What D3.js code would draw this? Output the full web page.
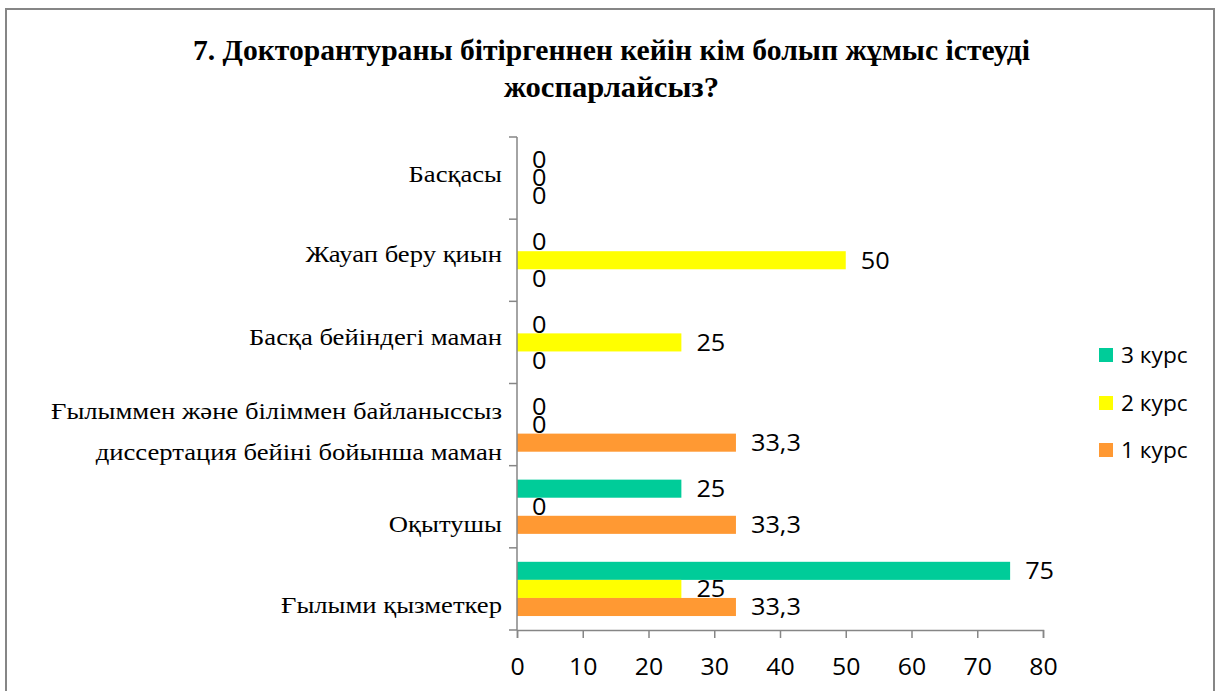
<!DOCTYPE html>
<html>
<head>
<meta charset="utf-8">
<script src="https://cdn.jsdelivr.net/npm/d3@7"></script>
<style>
  html, body { margin: 0; padding: 0; background: #ffffff; }
  svg { display: block; }
  .serif { font-family: "Liberation Serif", "Times New Roman", "DejaVu Serif", serif; }
  .sans { font-family: "Open Sans", "Noto Sans", sans-serif; }
</style>
</head>
<body>
<svg id="chart" width="1217" height="691"></svg>
<script>
// Survey question and answer options (top to bottom as drawn)
const titleLines = [
  "7. Докторантураны бітіргеннен кейін кім болып жұмыс істеуді",
  "жоспарлайсыз?"
];
const categories = [
  "Басқасы",
  "Жауап беру қиын",
  "Басқа бейіндегі маман",
  "Ғылыммен және біліммен байланыссыз диссертация бейіні бойынша маман",
  "Оқытушы",
  "Ғылыми қызметкер"
];
// Wrapped lines for category labels
const categoryLines = [
  ["Басқасы"],
  ["Жауап беру қиын"],
  ["Басқа бейіндегі маман"],
  ["Ғылыммен және біліммен байланыссыз", "диссертация бейіні бойынша маман"],
  ["Оқытушы"],
  ["Ғылыми қызметкер"]
];
// Series (percent), one value per category in the order above
const seriesNames = ["3 курс", "2 курс", "1 курс"];
const course3 = [0, 0, 0, 0, 25, 75];
const course2 = [0, 50, 25, 0, 0, 25];
const course1 = [0, 0, 0, 33.3, 33.3, 33.3];
const seriesColors = ["#00cc99", "#ffff00", "#ff9933"];
const xTicks = [0, 10, 20, 30, 40, 50, 60, 70, 80];

const seriesValues = [course3, course2, course1];

const svg = d3.select("#chart");
const axisColor = "#868686";

// Widen text horizontally by factor k around its anchor
function stretch(sel, k) {
  sel.each(function () {
    const w = this.getComputedTextLength();
    d3.select(this).attr("textLength", w * k).attr("lengthAdjust", "spacingAndGlyphs");
  });
}

// Outer frame
svg.append("rect")
  .attr("x", 6).attr("y", 9)
  .attr("width", 1208).attr("height", 700)
  .attr("fill", "none")
  .attr("stroke", axisColor)
  .attr("stroke-width", 2);

// Title
const titleY = [60, 97];
const titleW = [837, 215];
svg.selectAll("text.title")
  .data(titleLines)
  .join("text")
  .attr("class", "title serif")
  .attr("x", 611.5)
  .attr("y", (d, i) => titleY[i])
  .attr("text-anchor", "middle")
  .attr("font-weight", "bold")
  .attr("font-size", 30)
  .attr("textLength", (d, i) => titleW[i])
  .attr("lengthAdjust", "spacingAndGlyphs")
  .attr("fill", "#000")
  .text(d => d);

// Scales
const x = d3.scaleLinear().domain([0, 80]).range([517, 1043]);
const y = d3.scaleBand().domain(categories).range([137, 630]).paddingInner(0).paddingOuter(0);
const groupPad = y.bandwidth() * 0.17;
const ySub = d3.scaleBand().domain(seriesNames).range([groupPad, y.bandwidth() - groupPad]);

// Bars
const barData = [];
categories.forEach((c, ci) => {
  seriesNames.forEach((s, si) => {
    barData.push({ cat: c, series: s, value: seriesValues[si][ci], color: seriesColors[si] });
  });
});

const plot = svg.append("g");
plot.selectAll("rect.bar")
  .data(barData.filter(d => d.value > 0))
  .join("rect")
  .attr("class", "bar")
  .attr("x", x(0))
  .attr("y", d => y(d.cat) + ySub(d.series))
  .attr("width", d => x(d.value) - x(0))
  .attr("height", ySub.bandwidth())
  .attr("fill", d => d.color);

// Value labels
const fmt = v => String(v).replace(".", ",");
const valLabels = plot.selectAll("text.val")
  .data(barData)
  .join("text")
  .attr("class", "val sans")
  .attr("x", d => x(d.value) + 15)
  .attr("y", d => y(d.cat) + ySub(d.series) + ySub.bandwidth() / 2)
  .attr("dy", "0.36em")
  .attr("font-size", 23)
  .attr("fill", "#000")
  .text(d => fmt(d.value));
stretch(valLabels, 1.1);

// X axis
const xAxis = d3.axisBottom(x).tickValues(xTicks).tickSize(8).tickPadding(21).tickFormat(d3.format("d"));
const gx = svg.append("g").attr("transform", "translate(0,630)").call(xAxis);
gx.attr("font-family", null).attr("font-size", null);
gx.select(".domain").attr("stroke", axisColor).attr("stroke-width", 1.5);
gx.selectAll(".tick line").attr("stroke", axisColor).attr("stroke-width", 1.5);
const tickLabels = gx.selectAll(".tick text")
  .attr("class", "sans")
  .attr("font-size", 23)
  .attr("fill", "#000");
stretch(tickLabels, 1.08);

// Y axis (category boundaries get tick marks)
const yBoundaries = categories.map(c => y(c)).concat([y.range()[1]]);
const gy = svg.append("g");
gy.append("line")
  .attr("x1", 517).attr("x2", 517)
  .attr("y1", y.range()[0]).attr("y2", y.range()[1])
  .attr("stroke", axisColor).attr("stroke-width", 1.5);
gy.selectAll("line.ytick")
  .data(yBoundaries)
  .join("line")
  .attr("class", "ytick")
  .attr("x1", 509).attr("x2", 517)
  .attr("y1", d => d).attr("y2", d => d)
  .attr("stroke", axisColor).attr("stroke-width", 1.5);

// Category labels: baseline offset from band centre, wrapped lines 41px apart
const labelShift = [4, 2, 3, 15, 25, 24];
const lineGap = 41;
categories.forEach((c, ci) => {
  const lines = categoryLines[ci];
  const cy = y(c) + y.bandwidth() / 2 + labelShift[ci];
  lines.forEach((ln, li) => {
    const t = gy.append("text")
      .attr("class", "serif")
      .attr("text-anchor", "end")
      .attr("x", 502)
      .attr("y", cy + (li - (lines.length - 1) / 2) * lineGap)
      .attr("font-size", 24)
      .attr("fill", "#000")
      .text(ln);
    stretch(t, 1.11);
  });
});

// Legend
const legendY = [355, 403, 450];
const legend = svg.append("g");
seriesNames.forEach((s, i) => {
  legend.append("rect")
    .attr("x", 1099).attr("y", legendY[i] - 7)
    .attr("width", 14).attr("height", 14)
    .attr("fill", seriesColors[i]);
  const t = legend.append("text")
    .attr("class", "sans")
    .attr("x", 1121).attr("y", legendY[i])
    .attr("dy", "0.36em")
    .attr("font-size", 22)
    .attr("fill", "#000")
    .text(s);
  stretch(t, 1.03);
});
</script>
</body>
</html>
